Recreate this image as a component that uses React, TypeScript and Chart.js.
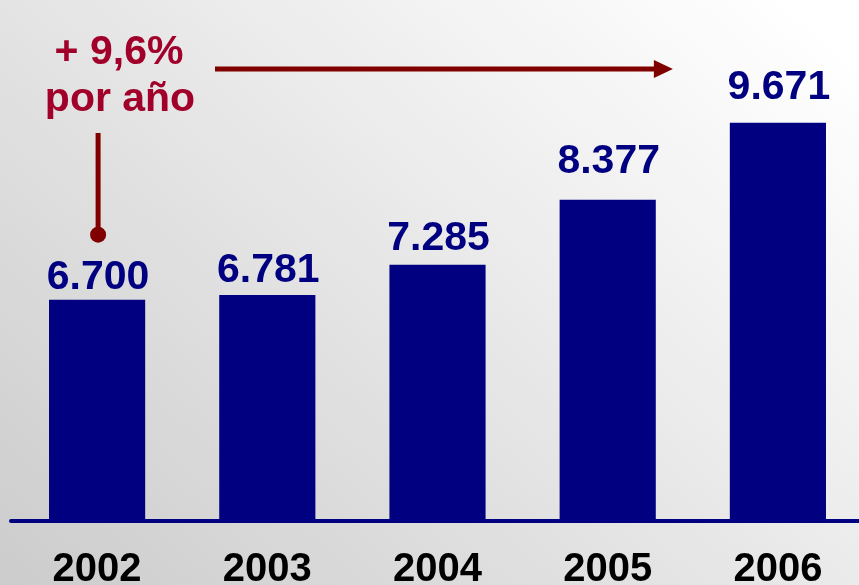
import React, { useEffect, useRef } from "react";
import { Chart, registerables } from "chart.js";

Chart.register(...registerables);

const YEARS = ["2002", "2003", "2004", "2005", "2006"];
const VISITORS = [6700, 6781, 7285, 8377, 9671];
const VALUE_LABELS = ["6.700", "6.781", "7.285", "8.377", "9.671"];
const GROWTH_LINE_1 = "+ 9,6%";
const GROWTH_LINE_2 = "por año";
const Y_MIN = 3000;
const Y_MAX = 11700;

const FONT = '"Liberation Sans", Arial, Helvetica, sans-serif';
const NAVY = "#000080";
const TEXT_RED = "#A0002A";
const LINE_RED = "#800000";
const LABEL_GAPS = [11, 13, 15, 27, 24];

const backgroundPlugin = {
  id: "bg",
  beforeDraw(chart: any) {
    const { ctx, width, height } = chart;
    ctx.save();
    const g = ctx.createLinearGradient(720, -60, 100, height + 60);
    g.addColorStop(0, "#ffffff");
    g.addColorStop(0.35, "#eeeeee");
    g.addColorStop(0.7, "#dcdcdc");
    g.addColorStop(1, "#cdcdcd");
    ctx.fillStyle = g;
    ctx.fillRect(0, 0, width, height);
    ctx.restore();
  },
};

const baselinePlugin = {
  id: "baseline",
  afterDatasetsDraw(chart: any) {
    const { ctx, chartArea } = chart;
    ctx.save();
    ctx.strokeStyle = NAVY;
    ctx.lineWidth = 4;
    ctx.lineCap = "round";
    ctx.beginPath();
    ctx.moveTo(chartArea.left - 1, chartArea.bottom + 1);
    ctx.lineTo(chart.width, chartArea.bottom + 1);
    ctx.stroke();
    ctx.restore();
  },
};

const valueLabelPlugin = {
  id: "valueLabels",
  afterDatasetsDraw(chart: any) {
    const { ctx } = chart;
    const meta = chart.getDatasetMeta(0);
    ctx.save();
    ctx.font = `bold 41px ${FONT}`;
    ctx.fillStyle = NAVY;
    ctx.textAlign = "center";
    ctx.textBaseline = "alphabetic";
    meta.data.forEach((bar: any, i: number) => {
      ctx.fillText(VALUE_LABELS[i], bar.x + 1, bar.y - LABEL_GAPS[i]);
    });
    ctx.restore();
  },
};

const annotationPlugin = {
  id: "growth",
  afterDraw(chart: any) {
    const { ctx } = chart;
    const meta = chart.getDatasetMeta(0);
    const first = meta.data[0];
    const last = meta.data[meta.data.length - 1];
    const x0 = first.x;
    const dotY = first.y - 65;
    ctx.save();
    ctx.strokeStyle = LINE_RED;
    ctx.fillStyle = LINE_RED;
    ctx.lineWidth = 5;
    ctx.beginPath();
    ctx.moveTo(x0 + 1, dotY);
    ctx.lineTo(x0 + 1, 133);
    ctx.stroke();
    ctx.beginPath();
    ctx.arc(x0 + 1, dotY, 8, 0, Math.PI * 2);
    ctx.fill();
    const arrowY = 69;
    const tipX = last.x - 105;
    ctx.beginPath();
    ctx.moveTo(215, arrowY);
    ctx.lineTo(tipX - 16, arrowY);
    ctx.stroke();
    ctx.beginPath();
    ctx.moveTo(tipX, arrowY);
    ctx.lineTo(tipX - 19, arrowY - 9);
    ctx.lineTo(tipX - 19, arrowY + 9);
    ctx.closePath();
    ctx.fill();
    ctx.fillStyle = TEXT_RED;
    ctx.font = `bold 41px ${FONT}`;
    ctx.textAlign = "center";
    ctx.textBaseline = "alphabetic";
    ctx.fillText(GROWTH_LINE_1, 119, 64);
    ctx.fillText(GROWTH_LINE_2, 120, 111);
    ctx.restore();
  },
};

export default function App() {
  const ref = useRef<HTMLCanvasElement | null>(null);

  useEffect(() => {
    document.body.style.overflow = "hidden";
    const canvas = ref.current;
    if (!canvas) return;
    const chart = new Chart(canvas, {
      type: "bar",
      data: {
        labels: YEARS,
        datasets: [
          {
            data: VISITORS,
            backgroundColor: NAVY,
            borderWidth: 0,
            barPercentage: 0.565,
            categoryPercentage: 1,
          },
        ],
      },
      options: {
        responsive: false,
        animation: false,
        devicePixelRatio: 1,
        layout: { padding: { left: 12, right: 3, top: 2, bottom: -35 } },
        plugins: {
          legend: { display: false },
          tooltip: { enabled: false },
        },
        scales: {
          x: {
            type: "category",
            grid: { display: false, drawTicks: false },
            border: { display: false },
            ticks: {
              color: "#000000",
              font: { family: FONT, size: 40, weight: "bold", lineHeight: 0.6 },
              padding: 38,
              maxRotation: 0,
              autoSkip: false,
            },
          },
          y: {
            display: false,
            min: Y_MIN,
            max: Y_MAX,
          },
        },
      },
      plugins: [backgroundPlugin, baselinePlugin, valueLabelPlugin, annotationPlugin],
    });
    return () => chart.destroy();
  }, []);

  return (
    <div style={{ position: "fixed", left: 0, top: 0, width: 866, height: 585, overflow: "hidden" }}>
      <canvas ref={ref} width={866} height={585} style={{ display: "block" }} />
    </div>
  );
}
